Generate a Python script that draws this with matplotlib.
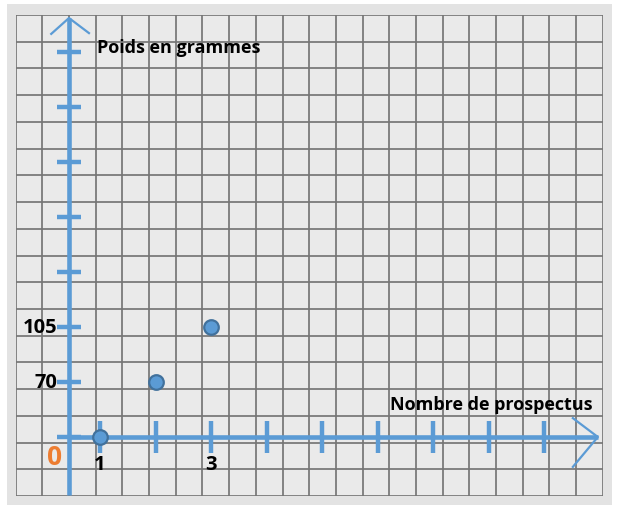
import matplotlib.pyplot as plt
from matplotlib.patches import Rectangle

# data
prospectus = [1, 2, 3]
poids = [35, 70, 105]
x_ticks = [1, 2, 3, 4, 5, 6, 7, 8, 9]
y_ticks = [35, 70, 105, 140, 175, 210, 245, 280]
x_labels = {1: "1", 3: "3"}
y_labels = {70: "70", 105: "105"}

blue = "#5b9bd5"
font = ["Open Sans", "DejaVu Sans"]

fig = plt.figure(figsize=(6.17, 5.06), dpi=100)
fig.patch.set_facecolor("white")
fig.patches.append(Rectangle((7 / 617, 0), 605 / 617, 501 / 506,
                             transform=fig.transFigure, facecolor="#e3e3e3",
                             edgecolor="none", zorder=-10))

# squared paper
grid = fig.add_axes([15.7 / 617, 1 - 497 / 506, 587 / 617, 481 / 506])
grid.set_facecolor("#eaeaea")
grid.set_xlim(0, 22)
grid.set_ylim(0, 18)
for i in range(23):
    grid.axvline(i, color="#767676", lw=1.25)
for j in range(19):
    grid.axhline(j, color="#767676", lw=1.25)
grid.set_xticks([])
grid.set_yticks([])
for s in grid.spines.values():
    s.set_visible(False)

# hand-drawn axes
ax = fig.add_axes([0, 0, 1, 1])
ax.patch.set_alpha(0)
ax.set_xlim(-0.802, 10.315)
ax.set_ylim(-8.27, 313.7)
ax.axis("off")

x0 = 0.441   # where the vertical axis is drawn
y0 = 35      # where the horizontal axis is drawn

ax.plot([x0, x0], [-2, 301.6], color=blue, lw=3.3, solid_capstyle="butt")
ax.plot([x0 - 0.32, x0, x0 + 0.36], [291.5, 301.6, 292], color=blue, lw=1.6)
ax.plot([x0, 9.97], [y0, y0], color=blue, lw=3.3, solid_capstyle="butt")
ax.plot([9.52, 9.97, 9.52], [y0 + 12, y0, y0 - 19], color=blue, lw=1.6)

for t in x_ticks:
    ax.plot([t, t], [y0 - 10, y0 + 10], color=blue, lw=3.2, solid_capstyle="butt")
for t in y_ticks:
    ax.plot([x0 - 0.22, x0 + 0.22], [t, t], color=blue, lw=3.2, solid_capstyle="butt")

ax.plot(prospectus, poids, "o", ms=10.5, mfc=blue, mec="#41719c", mew=1.6,
        zorder=5)

for t, lab in x_labels.items():
    ax.text(t, 17.8, lab, ha="center", va="center", fontsize=14.5,
            fontweight="bold", family=font)
for t, lab in y_labels.items():
    ax.text(0.23, t, lab, ha="right", va="center", fontsize=14.5,
            fontweight="bold", family=font)
ax.text(0.19, 22.5, "0", ha="center", va="center", fontsize=19,
        fontweight="bold", color="#ed7d31", family=font)

ax.text(0.95, 283, "Poids en grammes", ha="left", va="center", fontsize=13,
        fontweight="bold", family=font)
ax.text(9.87, 56, "Nombre de prospectus", ha="right", va="center",
        fontsize=13, fontweight="bold", family=font)

fig.savefig("out.png", dpi=100)
